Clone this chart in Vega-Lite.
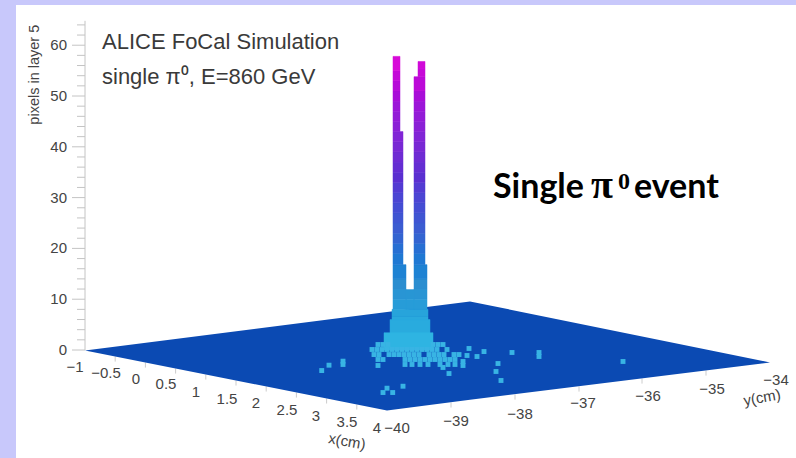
{
"$schema":"https://vega.github.io/schema/vega-lite/v6.json",
"width":796,"height":458,"padding":0,"autosize":{"type":"none"},
"background":"#c8c8fb",
"config":{"view":{"stroke":null}},
"datasets":{
"panel":[{"name":"panel"}],
"floor":[{"u":85,"lo":-0.1,"hi":-0.1},{"u":387,"lo":-11.9,"hi":7.5},{"u":470,"lo":-9.8,"hi":9.55},{"u":770,"lo":-2.46,"hi":-2.46}],
"axisline":[{"u":85,"lo":0,"hi":64.8}],
"zticks":[{"u":72,"u2":85,"v":0},{"u":77,"u2":85,"v":2},{"u":77,"u2":85,"v":4},{"u":77,"u2":85,"v":6},{"u":77,"u2":85,"v":8},{"u":72,"u2":85,"v":10},{"u":77,"u2":85,"v":12},{"u":77,"u2":85,"v":14},{"u":77,"u2":85,"v":16},{"u":77,"u2":85,"v":18},{"u":72,"u2":85,"v":20},{"u":77,"u2":85,"v":22},{"u":77,"u2":85,"v":24},{"u":77,"u2":85,"v":26},{"u":77,"u2":85,"v":28},{"u":72,"u2":85,"v":30},{"u":77,"u2":85,"v":32},{"u":77,"u2":85,"v":34},{"u":77,"u2":85,"v":36},{"u":77,"u2":85,"v":38},{"u":72,"u2":85,"v":40},{"u":77,"u2":85,"v":42},{"u":77,"u2":85,"v":44},{"u":77,"u2":85,"v":46},{"u":77,"u2":85,"v":48},{"u":72,"u2":85,"v":50},{"u":77,"u2":85,"v":52},{"u":77,"u2":85,"v":54},{"u":77,"u2":85,"v":56},{"u":77,"u2":85,"v":58},{"u":72,"u2":85,"v":60},{"u":77,"u2":85,"v":62},{"u":77,"u2":85,"v":64}],
"zlabels":[{"t":"0","u":67,"v":0},{"t":"10","u":67,"v":10},{"t":"20","u":67,"v":20},{"t":"30","u":67,"v":30},{"t":"40","u":67,"v":40},{"t":"50","u":67,"v":50},{"t":"60","u":67,"v":60}],
"ticks":[{"u":115.2,"lo":-2.28,"hi":-1.28},{"u":145.4,"lo":-3.46,"hi":-2.46},{"u":175.6,"lo":-4.64,"hi":-3.64},{"u":205.8,"lo":-5.82,"hi":-4.82},{"u":236,"lo":-7,"hi":-6},{"u":266.2,"lo":-8.18,"hi":-7.18},{"u":296.4,"lo":-9.36,"hi":-8.36},{"u":326.6,"lo":-10.54,"hi":-9.54},{"u":356.8,"lo":-11.72,"hi":-10.72},{"u":451,"lo":-11.33,"hi":-10.33},{"u":515,"lo":-9.76,"hi":-8.76},{"u":579,"lo":-8.19,"hi":-7.19},{"u":642,"lo":-6.61,"hi":-5.61},{"u":706,"lo":-5.04,"hi":-4.04}],
"cells":[{"u":321.7,"v":-4.04},{"u":329,"v":-2.99},{"u":343,"v":-2.2},{"u":343,"v":-2.85},{"u":383,"v":-8.37},{"u":387,"v":-7.52},{"u":392.7,"v":-8.37},{"u":403,"v":-7.13},{"u":378,"v":-3.05},{"u":449,"v":-4.63},{"u":469,"v":0.3},{"u":467,"v":-1.08},{"u":477,"v":-1.28},{"u":484,"v":-0.3},{"u":512,"v":-0.49},{"u":539,"v":-0.49},{"u":539,"v":-1.28},{"u":498,"v":-2.66},{"u":496,"v":-4.23},{"u":501,"v":-6},{"u":623,"v":-2.26},{"u":463,"v":-2.26},{"u":463,"v":-3.05},{"u":443,"v":-3.44},
{"u":378,"v":1.08},{"u":383,"v":1.08},{"u":388,"v":1.08},{"u":433,"v":1.08},{"u":438,"v":1.08},{"u":443,"v":1.08},
{"u":372,"v":0.1},{"u":377,"v":0.1},{"u":382,"v":0.1},{"u":387,"v":0.1},{"u":392,"v":0.1},{"u":397,"v":0.1},{"u":402,"v":0.1},{"u":407,"v":0.1},{"u":412,"v":0.1},{"u":417,"v":0.1},{"u":422,"v":0.1},{"u":427,"v":0.1},{"u":432,"v":0.1},{"u":437,"v":0.1},{"u":447,"v":0.1},
{"u":374,"v":-0.89},{"u":379,"v":-0.89},{"u":389,"v":-0.89},{"u":394,"v":-0.89},{"u":399,"v":-0.89},{"u":404,"v":-0.89},{"u":409,"v":-0.89},{"u":414,"v":-0.89},{"u":419,"v":-0.89},{"u":429,"v":-0.89},{"u":434,"v":-0.89},{"u":439,"v":-0.89},{"u":444,"v":-0.89},{"u":454,"v":-0.89},{"u":459,"v":-0.89},
{"u":378,"v":-1.87},{"u":383,"v":-1.87},{"u":405,"v":-1.87},{"u":410,"v":-1.87},{"u":415,"v":-1.87},{"u":420,"v":-1.87},{"u":425,"v":-1.87},{"u":430,"v":-1.87},{"u":435,"v":-1.87},{"u":440,"v":-1.87},{"u":445,"v":-1.87},{"u":450,"v":-1.87},{"u":455,"v":-1.87},
{"u":405,"v":-2.85},{"u":412,"v":-2.85},{"u":420,"v":-2.85},{"u":428,"v":-2.85},{"u":440,"v":-2.85},{"u":448,"v":-2.85},{"u":455,"v":-2.85}],
"bars":[
{"u":392,"u2":428,"lo":2,"hi":6.6},{"u":390,"u2":430,"lo":2,"hi":6},{"u":384,"u2":433,"lo":0,"hi":3.4},
{"u":392,"u2":428,"lo":6.6,"hi":8},{"u":406,"u2":414,"lo":8,"hi":10},{"u":406,"u2":414,"lo":10,"hi":11.9},
{"u":393,"u2":406,"lo":8,"hi":10},{"u":393,"u2":406,"lo":10,"hi":12},{"u":393,"u2":406,"lo":12,"hi":14},{"u":393,"u2":406,"lo":14,"hi":16.8},
{"u":393,"u2":403,"lo":16.8,"hi":19},{"u":393,"u2":403,"lo":19,"hi":21},{"u":393,"u2":403,"lo":21,"hi":23},{"u":393,"u2":403,"lo":23,"hi":25},{"u":393,"u2":403,"lo":25,"hi":27},{"u":393,"u2":403,"lo":27,"hi":29},{"u":393,"u2":403,"lo":29,"hi":31},{"u":393,"u2":403,"lo":31,"hi":33},{"u":393,"u2":403,"lo":33,"hi":35},{"u":393,"u2":403,"lo":35,"hi":37},{"u":393,"u2":403,"lo":37,"hi":39},{"u":393,"u2":403,"lo":39,"hi":41},{"u":393,"u2":403,"lo":41,"hi":43},
{"u":393,"u2":400,"lo":43,"hi":45},{"u":393,"u2":400,"lo":45,"hi":47},{"u":393,"u2":400,"lo":47,"hi":49},{"u":393,"u2":400,"lo":49,"hi":51},{"u":393,"u2":400,"lo":51,"hi":53},{"u":393,"u2":400,"lo":53,"hi":55},{"u":393,"u2":400,"lo":55,"hi":57.8},
{"u":414,"u2":427,"lo":8,"hi":10},{"u":414,"u2":427,"lo":10,"hi":12},{"u":414,"u2":427,"lo":12,"hi":14},{"u":414,"u2":427,"lo":14,"hi":16.8},
{"u":414,"u2":425,"lo":16.8,"hi":19},{"u":414,"u2":425,"lo":19,"hi":21},{"u":414,"u2":425,"lo":21,"hi":23},{"u":414,"u2":425,"lo":23,"hi":25},{"u":414,"u2":425,"lo":25,"hi":27},{"u":414,"u2":425,"lo":27,"hi":29},{"u":414,"u2":425,"lo":29,"hi":31},{"u":414,"u2":425,"lo":31,"hi":33},{"u":414,"u2":425,"lo":33,"hi":35},{"u":414,"u2":425,"lo":35,"hi":37},{"u":414,"u2":425,"lo":37,"hi":39},{"u":414,"u2":425,"lo":39,"hi":41},{"u":414,"u2":425,"lo":41,"hi":43},{"u":414,"u2":425,"lo":43,"hi":45},{"u":414,"u2":425,"lo":45,"hi":47},{"u":414,"u2":425,"lo":47,"hi":49},{"u":414,"u2":425,"lo":49,"hi":51},{"u":414,"u2":425,"lo":51,"hi":53.8},
{"u":418,"u2":425,"lo":53.8,"hi":55.5},{"u":418,"u2":425,"lo":55.5,"hi":56.8}],
"labels":[{"t":"−1","u":75,"v":-3.44},{"t":"−0.5","u":106,"v":-4.43},{"t":"0","u":136,"v":-5.61},{"t":"0.5","u":166,"v":-6.79},{"t":"1","u":196,"v":-8.17},{"t":"1.5","u":227,"v":-9.55},{"t":"2","u":256,"v":-10.53},{"t":"2.5","u":287,"v":-11.9},{"t":"3","u":316,"v":-13.09},{"t":"3.5","u":347,"v":-14.27},{"t":"4","u":377,"v":-15.45},{"t":"−40","u":397,"v":-15.45},{"t":"−39","u":456,"v":-13.88},{"t":"−38","u":520,"v":-12.5},{"t":"−37","u":583,"v":-10.53},{"t":"−36","u":648,"v":-9.15},{"t":"−35","u":712,"v":-7.58},{"t":"−34","u":776,"v":-6}],
"titles":[{"t":"ALICE FoCal Simulation","u":102,"v":60.7},{"t":"single π⁰, E=860 GeV","u":102,"v":53.8}]
},
"layer":[
{"data":{"name":"panel"},"mark":{"type":"rect","color":"#ffffff"},
 "encoding":{"x":{"datum":16,"type":"quantitative","scale":{"domain":[0,796],"nice":false,"zero":false},"axis":null},"x2":{"datum":796},"y":{"datum":-21.26,"type":"quantitative","scale":{"domain":[-21.26,68.9],"nice":false,"zero":false},"axis":null},"y2":{"datum":67.9}}},
{"data":{"name":"axisline"},"mark":{"type":"rule","color":"#c4c4c4"},"encoding":{"x":{"field":"u","type":"quantitative","axis":null},"y":{"field":"lo","type":"quantitative","axis":null},"y2":{"field":"hi"}}},
{"data":{"name":"zticks"},"mark":{"type":"rule","color":"#c4c4c4"},"encoding":{"x":{"field":"u","type":"quantitative","axis":null},"x2":{"field":"u2"},"y":{"field":"v","type":"quantitative","axis":null}}},
{"data":{"name":"zlabels"},"mark":{"type":"text","font":"Liberation Sans","fontSize":15,"color":"#444444","baseline":"middle","align":"right"},"encoding":{"x":{"field":"u","type":"quantitative","axis":null},"y":{"field":"v","type":"quantitative","axis":null},"text":{"field":"t"}}},
{"data":{"values":[{"t":"pixels in layer 5","u":35,"v":54.2}]},"mark":{"type":"text","font":"Liberation Sans","fontSize":14.5,"color":"#444444","baseline":"middle","align":"center","angle":270},"encoding":{"x":{"field":"u","type":"quantitative","axis":null},"y":{"field":"v","type":"quantitative","axis":null},"text":{"field":"t"}}},
{"data":{"name":"ticks"},"mark":{"type":"rule","color":"#cccccc"},"encoding":{"x":{"field":"u","type":"quantitative","axis":null},"y":{"field":"lo","type":"quantitative","axis":null},"y2":{"field":"hi"}}},
{"data":{"name":"floor"},"mark":{"type":"area","color":"#0b4ab3","interpolate":"linear"},"encoding":{"x":{"field":"u","type":"quantitative","axis":null},"y":{"field":"lo","type":"quantitative","axis":null},"y2":{"field":"hi"}}},
{"data":{"name":"bars"},"mark":{"type":"rect","strokeWidth":0.5},"encoding":{"x":{"field":"u","type":"quantitative","axis":null},"x2":{"field":"u2"},"y":{"field":"lo","type":"quantitative","axis":null},"y2":{"field":"hi"},
 "color":{"field":"hi","type":"quantitative","legend":null,"scale":{"domain":[0,14,24,35,50,58],"range":["#38c0e6","#2b8ed0","#3a5fd0","#5a2fd0","#a010d8","#d80ad8"]}},
 "stroke":{"field":"hi","type":"quantitative","legend":null,"scale":{"domain":[0,14,24,35,50,58],"range":["#38c0e6","#2b8ed0","#3a5fd0","#5a2fd0","#a010d8","#d80ad8"]}}}},
{"data":{"name":"cells"},"mark":{"type":"square","color":"#38b4e4","opacity":1,"size":24},"encoding":{"x":{"field":"u","type":"quantitative","axis":null},"y":{"field":"v","type":"quantitative","axis":null}}},
{"data":{"name":"labels"},"mark":{"type":"text","font":"Liberation Sans","fontSize":15,"color":"#444444","baseline":"middle","align":"center"},"encoding":{"x":{"field":"u","type":"quantitative","axis":null},"y":{"field":"v","type":"quantitative","axis":null},"text":{"field":"t"}}},
{"data":{"values":[{"t":"x(cm)","u":347,"v":-18}]},"mark":{"type":"text","font":"Liberation Sans","fontSize":15,"color":"#444444","baseline":"middle","align":"center","angle":10},"encoding":{"x":{"field":"u","type":"quantitative","axis":null},"y":{"field":"v","type":"quantitative","axis":null},"text":{"field":"t"}}},
{"data":{"values":[{"t":"y(cm)","u":762,"v":-9.35}]},"mark":{"type":"text","font":"Liberation Sans","fontSize":15,"color":"#444444","baseline":"middle","align":"center","angle":-10},"encoding":{"x":{"field":"u","type":"quantitative","axis":null},"y":{"field":"v","type":"quantitative","axis":null},"text":{"field":"t"}}},
{"data":{"name":"titles"},"mark":{"type":"text","font":"Liberation Sans","fontSize":22,"color":"#3a3a3a","baseline":"middle","align":"left"},"encoding":{"x":{"field":"u","type":"quantitative","axis":null},"y":{"field":"v","type":"quantitative","axis":null},"text":{"field":"t"}}},
{"data":{"values":[{"t":"Single","u":493,"v":30},{"t":"event","u":634,"v":30}]},"mark":{"type":"text","font":"Lato","fontWeight":"bold","fontSize":34,"color":"#000000","baseline":"alphabetic","align":"left"},"encoding":{"x":{"field":"u","type":"quantitative","axis":null},"y":{"field":"v","type":"quantitative","axis":null},"text":{"field":"t"}}},
{"data":{"values":[{"t":"π","u":591,"v":30}]},"mark":{"type":"text","font":"Liberation Serif","fontWeight":"bold","fontSize":40,"color":"#000000","baseline":"alphabetic","align":"left"},"encoding":{"x":{"field":"u","type":"quantitative","axis":null},"y":{"field":"v","type":"quantitative","axis":null},"text":{"field":"t"}}},
{"data":{"values":[{"t":"0","u":618,"v":31.6}]},"mark":{"type":"text","font":"Liberation Serif","fontWeight":"bold","fontSize":24,"color":"#000000","baseline":"alphabetic","align":"left"},"encoding":{"x":{"field":"u","type":"quantitative","axis":null},"y":{"field":"v","type":"quantitative","axis":null},"text":{"field":"t"}}}
]
}
